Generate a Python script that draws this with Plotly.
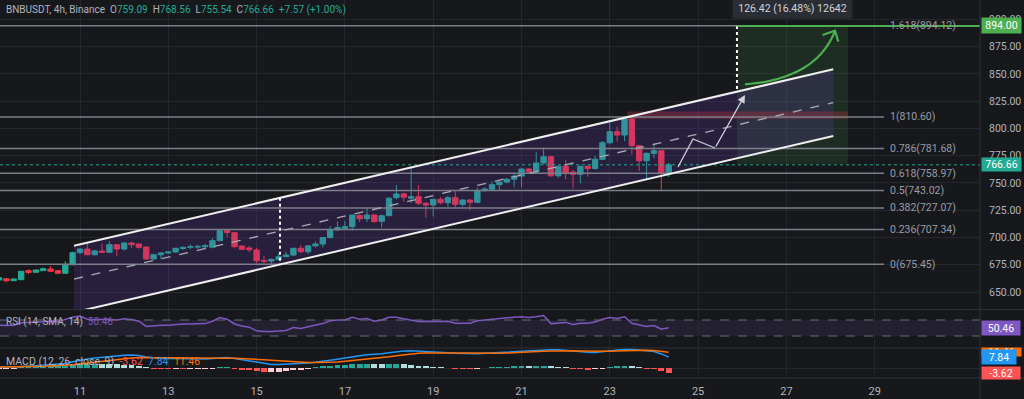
import plotly.graph_objects as go

# ---------------- data ----------------
symbol_title = "BNBUSDT, 4h, Binance"
first_bar_day = 9 + 4 / 24          # first visible 4h bar: day 9, 04:00
bar_hours = 4

opens = [661.0, 662.2, 660.4, 661.3, 669.6, 668.1, 669.6, 671.1, 669.6, 667.2, 675.0,
         686.1, 689.4, 684.2, 687.6, 686.4, 693.4, 689.4, 694.9, 694.0, 691.3, 680.3, 684.2,
         685.8, 686.7, 689.9, 691.0, 691.2, 691.5, 691.0, 697.1, 706.3, 704.4, 692.2, 690.4,
         688.5, 678.9, 678.4, 679.8, 682.4, 683.9, 690.1, 687.0, 692.3, 694.0, 699.9, 706.9,
         708.4, 709.9, 720.3, 717.2, 720.6, 714.8, 720.0, 736.5, 740.0, 736.0, 737.4, 731.4,
         729.8, 735.0, 731.9, 736.5, 730.4, 734.4, 732.3, 742.9, 744.2, 748.4, 750.9, 753.4,
         756.3, 762.8, 760.3, 768.3, 774.1, 756.6, 765.6, 760.0, 758.0, 765.3, 763.2, 771.7,
         786.9, 797.0, 794.0, 808.7, 784.2, 770.4, 777.2, 779.6, 759.09]
highs = [664.0, 662.5, 662.5, 669.3, 670.8, 670.5, 672.6, 673.8, 670.2, 678.4, 687.0,
         690.0, 694.6, 688.5, 694.3, 696.8, 694.0, 695.5, 695.9, 694.5, 691.5, 685.0, 686.5,
         687.5, 690.5, 691.5, 693.7, 693.0, 694.0, 699.3, 707.5, 706.8, 705.0, 692.8, 692.5,
         690.7, 683.0, 680.5, 685.5, 687.0, 690.5, 693.1, 693.0, 696.2, 700.5, 710.5, 714.6,
         715.1, 721.0, 721.0, 727.4, 721.0, 721.0, 737.0, 748.1, 741.0, 765.6, 748.1, 732.5,
         735.5, 737.0, 738.3, 743.6, 735.0, 735.0, 745.7, 746.0, 751.2, 751.5, 754.6, 758.2,
         764.0, 763.5, 778.7, 782.4, 775.0, 766.0, 771.0, 762.0, 766.0, 766.5, 775.0, 788.5,
         805.7, 801.7, 810.8, 811.0, 785.0, 778.0, 786.4, 780.0, 768.56]
lows = [660.0, 658.9, 660.0, 661.0, 666.2, 667.8, 669.3, 668.3, 666.8, 666.8, 674.5,
        684.8, 684.0, 683.5, 686.0, 686.0, 683.0, 687.9, 690.1, 689.7, 679.5, 679.5, 680.3,
        685.0, 686.0, 688.5, 689.2, 689.5, 689.0, 690.0, 696.5, 700.7, 690.1, 688.8, 686.4,
        676.3, 676.3, 676.0, 679.0, 682.0, 683.0, 685.5, 684.9, 691.0, 690.7, 699.0, 706.0,
        707.8, 706.0, 714.2, 714.2, 713.8, 709.3, 719.5, 735.0, 732.8, 731.9, 729.8, 718.2,
        719.2, 730.5, 728.2, 727.4, 728.5, 725.2, 731.5, 742.0, 743.5, 743.6, 749.8, 746.0,
        746.0, 759.0, 758.8, 767.0, 755.8, 754.8, 753.6, 745.1, 749.7, 755.8, 762.5, 771.0,
        785.5, 787.9, 788.5, 776.3, 761.0, 754.2, 772.6, 742.6, 755.54]
closes = [663.1, 660.3, 661.9, 669.0, 667.9, 670.2, 671.4, 669.0, 667.2, 675.4, 686.1,
          689.4, 684.2, 687.6, 686.4, 693.4, 689.4, 694.9, 693.4, 691.0, 680.3, 684.2, 685.8,
          686.7, 690.1, 691.0, 691.6, 691.8, 692.5, 697.1, 706.3, 704.6, 691.6, 689.2, 688.8,
          678.7, 678.3, 680.0, 682.4, 683.9, 690.1, 687.0, 692.3, 694.0, 699.9, 706.9, 709.1,
          709.9, 720.6, 717.2, 720.6, 714.5, 720.0, 736.0, 739.9, 736.9, 737.4, 731.4, 729.8,
          735.0, 731.9, 736.5, 730.4, 734.4, 732.3, 742.9, 744.5, 748.4, 750.9, 753.4, 756.3,
          762.8, 760.3, 768.3, 774.1, 756.6, 765.3, 759.2, 758.0, 765.3, 763.2, 771.7, 786.9,
          797.0, 794.0, 808.7, 784.2, 770.4, 777.2, 779.6, 759.09, 766.66]

rsi = [57, 56, 57, 63, 64, 65, 66, 67, 66, 72, 77,
       80, 72, 71, 71, 72, 70, 73, 71, 67, 54, 56, 57,
       57, 59, 60, 60, 60, 61, 67, 76, 72, 60, 55, 52,
       43, 41, 41, 42, 44, 51, 49, 53, 57, 61, 68, 70,
       70, 77, 72, 74, 67, 70, 77, 77, 73, 70, 66, 67,
       66, 66, 67, 62, 62, 62, 68, 70, 72, 74, 75, 77,
       78, 76, 78, 81, 61, 63, 64, 59, 62, 62, 65, 72,
       76, 74, 78, 62, 58, 54, 56, 47, 50.46]

macd = [0.5, 0.5, 0.6, 1.0, 1.3, 1.6, 2.0, 2.3, 2.5, 3.2, 4.5,
        5.8, 6.6, 7.3, 7.9, 8.6, 8.9, 9.3, 9.4, 9.1, 7.9, 7.2, 6.9,
        6.8, 6.7, 6.6, 6.5, 6.5, 6.6, 6.9, 7.5, 7.6, 6.9, 6.0, 5.0,
        4.0, 3.0, 2.6, 2.5, 2.7, 3.0, 3.3, 3.7, 4.2, 4.8, 5.6, 6.4,
        7.2, 8.2, 8.9, 9.6, 9.9, 10.3, 11.1, 11.9, 12.3, 12.5, 12.3, 11.9,
        11.6, 11.3, 11.1, 10.7, 10.4, 10.1, 10.3, 10.6, 10.9, 11.2, 11.5, 11.8,
        12.3, 12.5, 12.9, 13.4, 13.3, 13.2, 12.7, 12.2, 11.8, 11.4, 11.3, 11.9,
        12.8, 13.3, 13.6, 13.5, 13.1, 12.6, 11.9, 10.2, 7.84]
signal = [0.8, 0.8, 0.8, 0.8, 0.9, 1.0, 1.2, 1.4, 1.6, 1.9, 2.3,
          2.9, 3.6, 4.3, 5.0, 5.7, 6.3, 6.8, 7.3, 7.6, 7.7, 7.6, 7.5,
          7.4, 7.3, 7.2, 7.1, 7.0, 6.95, 6.95, 7.05, 7.1, 7.05, 6.9, 6.7,
          6.4, 6.0, 5.6, 5.2, 4.8, 4.5, 4.2, 4.0, 3.9, 3.95, 4.1, 4.4,
          4.8, 5.3, 5.9, 6.5, 7.1, 7.6, 8.2, 8.9, 9.6, 10.2, 10.6, 10.9,
          11.0, 11.1, 11.1, 11.0, 10.9, 10.8, 10.7, 10.6, 10.65, 10.75, 10.9, 11.05,
          11.3, 11.55, 11.8, 12.1, 12.35, 12.5, 12.55, 12.5, 12.35, 12.2, 12.0, 12.0,
          12.1, 12.3, 12.5, 12.7, 12.8, 12.8, 12.6, 12.1, 11.46]

day_ticks = [11, 13, 15, 17, 19, 21, 23, 25, 27, 29]
day_labels = ["11", "13", "15", "17", "19", "21", "23", "25", "27", "29"]
price_ticks = [650, 675, 700, 725, 750, 775, 800, 825, 850, 875, 900]
price_labels = ["650.00", "675.00", "700.00", "725.00", "750.00", "775.00", "800.00",
                "825.00", "850.00", "875.00", "900.00"]

fib_prices = [894.12, 810.60, 781.68, 758.97, 743.02, 727.07, 707.34, 675.45]
fib_labels = ["1.618(894.12)", "1(810.60)", "0.786(781.68)", "0.618(758.97)",
              "0.5(743.02)", "0.382(727.07)", "0.236(707.34)", "0(675.45)"]

last_price = 766.66
target_price = 894.00
range_start_price = 767.58
range_text = "126.42 (16.48%) 12642"
rsi_last = 50.46
macd_last, signal_last, hist_last = 7.84, 11.46, -3.62

# drawing anchors (day, price)
channel_days = [10.864, 28.062]
channel_upper = [692.47, 854.27]
channel_lower = [631.3, 793.1]
channel_mid = [661.9, 823.7]
width_marker_day = 15.53
width_marker_prices = [736.37, 675.2]
target_marker_day = 25.88
target_marker_prices = [894.0, 833.74]
box_days = [25.88, 28.395]
red_zone_days = [23.389, 28.395]
red_zone_prices = [808.8, 815.5]
path_days = [24.545, 24.884, 25.383, 26.062]
path_prices = [764.66, 790.34, 782.08, 830.7]
arc_days = [26.062, 26.554, 27.007, 27.383, 27.687, 27.913, 28.063, 28.1]
arc_prices = [840.5, 842.9, 848.1, 855.2, 864.4, 875.0, 885.7, 889.7]
arc_head_days = [27.82, 28.1, 28.175]
arc_head_prices = [885.7, 889.7, 879.6]

# ---------------- styling / layout ----------------
W, H = 1024, 399
BG = "#17181c"
GRID = "#25272d"
SEP = "#2e3038"
TXT = "#b2b5be"
UP = "#22ab94"
DOWN = "#f23645"
FONT = "Roboto"
PLOT_R = 980
MAIN_BOTTOM, RSI_BOTTOM, MACD_BOTTOM = 309.5, 348, 378


def py(px):
    return 1 - px / H


def px_to_day(px):
    return 11 + (px - 80) / 44.15


times = [first_bar_day + i * bar_hours / 24 for i in range(len(closes))]
hist = [m - s for m, s in zip(macd, signal)]
hist_colors = []
for i, h in enumerate(hist):
    prev = hist[i - 1] if i > 0 else h
    if h >= 0:
        hist_colors.append("#26a69a" if h >= prev else "#b2dfdb")
    else:
        hist_colors.append("#ff5252" if h < prev else "#ffcdd2")

xmin, xmax = px_to_day(0), px_to_day(PLOT_R)
fib_end = px_to_day(884)

fig = go.Figure()
skip = dict(hoverinfo="skip", showlegend=False)

# green measured box
fig.add_trace(go.Scatter(x=[box_days[0], box_days[1], box_days[1], box_days[0]],
                         y=[range_start_price, range_start_price, target_price, target_price],
                         fill="toself", fillcolor="rgba(76,175,80,0.14)", mode="lines",
                         line=dict(width=0), **skip))
# channel fill
fig.add_trace(go.Scatter(x=[channel_days[0], channel_days[1], channel_days[1], channel_days[0]],
                         y=[channel_upper[0], channel_upper[1], channel_lower[1], channel_lower[0]],
                         fill="toself", fillcolor="rgba(103,58,183,0.22)", mode="lines",
                         line=dict(width=0), **skip))
# red zone
fig.add_trace(go.Scatter(x=[red_zone_days[0], red_zone_days[1], red_zone_days[1], red_zone_days[0]],
                         y=[red_zone_prices[0], red_zone_prices[0], red_zone_prices[1], red_zone_prices[1]],
                         fill="toself", fillcolor="rgba(242,54,69,0.25)", mode="lines",
                         line=dict(width=0), **skip))
# fib lines
for p in fib_prices:
    fig.add_trace(go.Scatter(x=[xmin, fib_end], y=[p, p], mode="lines",
                             line=dict(color="#7c7f89", width=1.5), **skip))
# current price dotted
fig.add_trace(go.Scatter(x=[xmin, xmax], y=[last_price, last_price], mode="lines",
                         line=dict(color=UP, width=1, dash="dot"), **skip))
# candles
fig.add_trace(go.Candlestick(x=times, open=opens, high=highs, low=lows, close=closes,
                             increasing=dict(line=dict(color=UP, width=1), fillcolor=UP),
                             decreasing=dict(line=dict(color=DOWN, width=1), fillcolor=DOWN),
                             whiskerwidth=0, hoverinfo="skip", showlegend=False))
# channel lines
fig.add_trace(go.Scatter(x=channel_days, y=channel_upper, mode="lines",
                         line=dict(color="#eeeeee", width=2), **skip))
fig.add_trace(go.Scatter(x=channel_days, y=channel_lower, mode="lines",
                         line=dict(color="#eeeeee", width=2), **skip))
fig.add_trace(go.Scatter(x=channel_days, y=channel_mid, mode="lines",
                         line=dict(color="#a9acb5", width=1.3, dash="dash"), **skip))
# dotted width markers
fig.add_trace(go.Scatter(x=[width_marker_day] * 2, y=width_marker_prices, mode="lines",
                         line=dict(color="#ffffff", width=2, dash="dot"), **skip))
fig.add_trace(go.Scatter(x=[target_marker_day] * 2, y=target_marker_prices, mode="lines",
                         line=dict(color="#ffffff", width=2, dash="dot"), **skip))
# target line
fig.add_trace(go.Scatter(x=[target_marker_day, xmax], y=[target_price, target_price], mode="lines",
                         line=dict(color="#4caf50", width=2), **skip))
# white projection path
fig.add_trace(go.Scatter(x=path_days[:3], y=path_prices[:3], mode="lines",
                         line=dict(color="#d1d4dc", width=1.3), **skip))
# green curved arrow
fig.add_trace(go.Scatter(x=arc_days, y=arc_prices, mode="lines", line_shape="spline",
                         line=dict(color="#4caf50", width=2.2), **skip))
fig.add_trace(go.Scatter(x=arc_head_days, y=arc_head_prices, mode="lines",
                         line=dict(color="#4caf50", width=2.2), **skip))

# RSI pane
fig.add_trace(go.Scatter(x=times, y=rsi, mode="lines", line=dict(color="#7e57c2", width=1.5),
                         xaxis="x2", yaxis="y2", **skip))
# MACD pane
fig.add_trace(go.Bar(x=times, y=hist, marker=dict(color=hist_colors, line=dict(width=0)),
                     width=0.8 * bar_hours / 24, xaxis="x3", yaxis="y3", **skip))
fig.add_trace(go.Scatter(x=times, y=macd, mode="lines", line=dict(color="#2196f3", width=1.5),
                         xaxis="x3", yaxis="y3", **skip))
fig.add_trace(go.Scatter(x=times, y=signal, mode="lines", line=dict(color="#ff6d00", width=1.5),
                         xaxis="x3", yaxis="y3", **skip))

xcommon = dict(range=[xmin, xmax], domain=[0, PLOT_R / W], tickvals=day_ticks,
               showgrid=True, gridcolor=GRID, gridwidth=1, zeroline=False, showline=False,
               fixedrange=True)

shapes = [
    # RSI band
    dict(type="rect", xref="x2 domain", yref="y2", x0=0, x1=1, y0=30, y1=70,
         fillcolor="rgba(126,87,194,0.12)", line=dict(width=0), layer="below"),
    dict(type="line", xref="x2 domain", yref="y2", x0=0, x1=1, y0=70, y1=70,
         line=dict(color="#6a6d78", width=1, dash="dash")),
    dict(type="line", xref="x2 domain", yref="y2", x0=0, x1=1, y0=30, y1=30,
         line=dict(color="#6a6d78", width=1, dash="dash")),
    # pane separators and price-scale border
    dict(type="line", xref="paper", yref="paper", x0=0, x1=1, y0=py(MAIN_BOTTOM), y1=py(MAIN_BOTTOM),
         line=dict(color=SEP, width=1)),
    dict(type="line", xref="paper", yref="paper", x0=0, x1=1, y0=py(RSI_BOTTOM), y1=py(RSI_BOTTOM),
         line=dict(color=SEP, width=1)),
    dict(type="line", xref="paper", yref="paper", x0=0, x1=1, y0=py(MACD_BOTTOM), y1=py(MACD_BOTTOM),
         line=dict(color=SEP, width=1)),
    dict(type="line", xref="paper", yref="paper", x0=PLOT_R / W, x1=PLOT_R / W, y0=0, y1=1,
         line=dict(color=SEP, width=1)),
]

G = "#b2b5be"
header = (f"<span style='color:{G}'>{symbol_title}</span>&nbsp; "
          f"<span style='color:{G}'>O</span><span style='color:{UP}'>{opens[-1]:.2f}</span>&nbsp; "
          f"<span style='color:{G}'>H</span><span style='color:{UP}'>{highs[-1]:.2f}</span>&nbsp; "
          f"<span style='color:{G}'>L</span><span style='color:{UP}'>{lows[-1]:.2f}</span>&nbsp; "
          f"<span style='color:{G}'>C</span><span style='color:{UP}'>{closes[-1]:.2f}</span>&nbsp; "
          f"<span style='color:{UP}'>+{closes[-1]-opens[-1]:.2f} (+{(closes[-1]-opens[-1])/opens[-1]*100:.2f}%)</span>")

annotations = [
    dict(text=header, xref="paper", yref="paper", x=4 / W, y=py(9.5), xanchor="left",
         yanchor="middle", showarrow=False, font=dict(size=10, family=FONT)),
    dict(text=f"<span style='color:{G}'>RSI (14, SMA, 14)</span>&nbsp;&nbsp;"
              f"<span style='color:#7e57c2'>{rsi_last:.2f}</span>",
         xref="paper", yref="paper", x=4 / W, y=py(322), xanchor="left", yanchor="middle",
         showarrow=False, font=dict(size=10, family=FONT)),
    dict(text=f"<span style='color:{G}'>MACD (12, 26, close, 9)</span>&nbsp;&nbsp;"
              f"<span style='color:#ff5252'>{hist_last:.2f}</span>&nbsp;&nbsp;"
              f"<span style='color:#2196f3'>{macd_last:.2f}</span>&nbsp;&nbsp;"
              f"<span style='color:#ff6d00'>{signal_last:.2f}</span>",
         xref="paper", yref="paper", x=4 / W, y=py(361.5), xanchor="left", yanchor="middle",
         showarrow=False, font=dict(size=10.5, family=FONT)),
    dict(text=range_text, xref="paper", yref="paper", x=792.5 / W, y=py(8.5), xanchor="center",
         yanchor="middle", showarrow=False, bgcolor="#2a2d34", width=117, height=17,
         font=dict(size=10.5, family=FONT, color="#d1d4dc")),
    # white arrow last leg with head
    dict(x=path_days[3], y=path_prices[3], ax=path_days[2], ay=path_prices[2], xref="x", yref="y",
         axref="x", ayref="y", text="", showarrow=True, arrowhead=2, arrowsize=1.2,
         arrowwidth=1.3, arrowcolor="#d1d4dc"),
]
for p, lab in zip(fib_prices, fib_labels):
    annotations.append(dict(text=lab, xref="paper", yref="y", x=888 / W, y=p, xanchor="left",
                            yanchor="middle", showarrow=False,
                            font=dict(size=10.5, family=FONT, color="#9a9da6")))


def price_box(txt, y, yref, color, width, height=14):
    return dict(text=txt, xref="paper", yref=yref, x=981 / W, y=y, xanchor="left",
                yanchor="middle", showarrow=False, bgcolor=color, width=width, height=height,
                borderpad=0, font=dict(size=10.5, family=FONT, color="#ffffff"))


annotations += [
    price_box(f"{target_price:.2f}", target_price, "y", "#4caf50", 39, 15),
    price_box(f"{last_price:.2f}", last_price, "y", UP, 39, 13),
    price_box(f"{rsi_last:.2f}", rsi_last, "y2", "#7e57c2", 38, 14),
    price_box(f"{signal_last:.2f}", signal_last, "y3", "#ff6d00", 39, 8),
    price_box(f"{macd_last:.2f}", macd_last, "y3", "#2196f3", 34, 14),
    price_box(f"{hist_last:.2f}", hist_last, "y3", "#ff5252", 38, 12),
]

fig.update_layout(
    width=W, height=H, margin=dict(l=0, r=0, t=0, b=0),
    paper_bgcolor=BG, plot_bgcolor=BG, showlegend=False,
    font=dict(family=FONT, size=10.5, color=TXT),
    bargap=0, boxgap=0.27, boxgroupgap=0,
    xaxis=dict(**xcommon, anchor="y", showticklabels=False, rangeslider=dict(visible=False)),
    xaxis2=dict(**xcommon, anchor="y2", showticklabels=False),
    xaxis3=dict(**xcommon, anchor="y3", ticktext=day_labels, ticks="", ticklabelstandoff=5,
                tickfont=dict(size=11, color=TXT, family=FONT)),
    yaxis=dict(domain=[py(MAIN_BOTTOM), 1], range=[633.95, 917.84], side="right", anchor="x",
               tickvals=price_ticks, ticktext=price_labels, showgrid=True, gridcolor=GRID,
               zeroline=False, ticks="", ticklabelstandoff=8, fixedrange=True,
               tickfont=dict(size=10.5, color=TXT, family=FONT)),
    yaxis2=dict(domain=[py(RSI_BOTTOM), py(MAIN_BOTTOM)], range=[0, 96.25], anchor="x2",
                showgrid=False, showticklabels=False, zeroline=False, fixedrange=True),
    yaxis3=dict(domain=[py(MACD_BOTTOM), py(RSI_BOTTOM)], range=[-7.25, 14.49], anchor="x3",
                showticklabels=False, tickvals=[0], showgrid=True, gridcolor=GRID,
                zeroline=False, fixedrange=True),
    shapes=shapes, annotations=annotations,
)

fig.write_html("out.html", config={"displayModeBar": False},
               post_script="document.body.style.margin='0';document.body.style.overflow='hidden';")
